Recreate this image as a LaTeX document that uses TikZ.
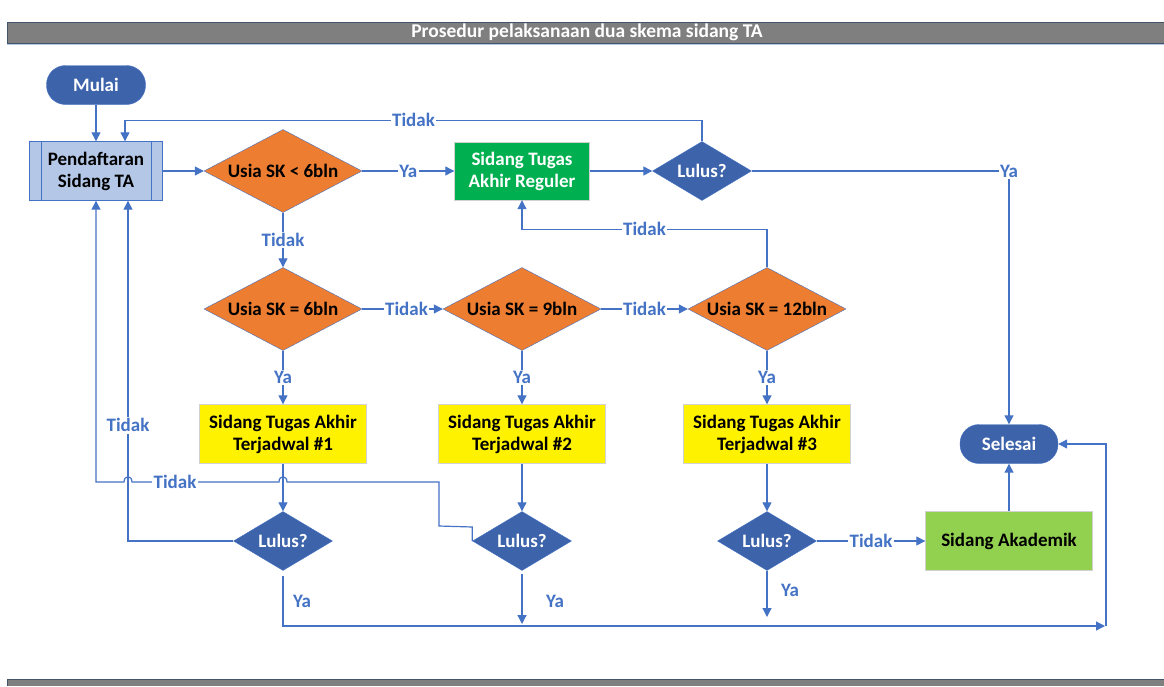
\documentclass[tikz,border=0pt]{standalone}
\usepackage{fontspec}
\setmainfont{Carlito}
\usetikzlibrary{shapes.geometric, positioning, arrows.meta}

\definecolor{lineblue}{RGB}{68,114,196}
\definecolor{darkblue}{RGB}{61,99,170}
\definecolor{skorange}{RGB}{237,125,49}
\definecolor{paleblue}{RGB}{180,199,231}
\definecolor{regreen}{RGB}{0,176,80}
\definecolor{akgreen}{RGB}{146,208,80}
\definecolor{bargray}{RGB}{127,127,127}
\definecolor{barblue}{RGB}{68,84,106}

\tikzset{
  terminal/.style={rectangle, rounded corners=19pt, fill=darkblue, draw=lineblue, text=white,
    minimum width=99pt, minimum height=39pt},
  proses/.style={rectangle, fill=paleblue, draw=lineblue, align=center,
    minimum width=133pt, minimum height=59pt},
  usia/.style={diamond, fill=skorange, draw=lineblue, line width=0.4pt, inner sep=0pt,
    shape aspect=1.9, minimum width=158pt, minimum height=83pt},
  lulus/.style={diamond, fill=darkblue, draw=lineblue, text=white, inner sep=0pt,
    shape aspect=1.68, minimum width=99pt, minimum height=59pt},
  jadwal/.style={rectangle, fill=yellow, draw=gray!35, align=center,
    minimum width=167pt, minimum height=59pt},
  reguler/.style={rectangle, fill=regreen, draw=gray!35, text=white, align=center,
    minimum width=135pt, minimum height=58pt},
  akademik/.style={rectangle, fill=akgreen, draw=gray!35, align=center,
    minimum width=167pt, minimum height=59pt},
  lbl/.style={fill=white, text=lineblue, inner sep=1.5pt},
  flow/.style={->, color=lineblue, line width=1.2pt}
}

\begin{document}
\begin{tikzpicture}[x=1pt, y=-1pt, on grid, >={Triangle[length=9pt, width=9pt]},
    font=\fontsize{19}{22}\selectfont\bfseries]
    \useasboundingbox (0,0) rectangle (1164,686);

    % title bar and bottom bar
    \fill[bargray] (7,22) rectangle (1164,43);
    \draw[barblue, line width=1pt] (7,43) -- (7,22) -- (1164,22);
    \draw[barblue, line width=1pt] (7,43) -- (1164,43);
    \draw[paleblue, line width=1.5pt] (7,44.5) -- (1164,44.5);
    \node[text=white, font=\fontsize{19.5}{22}\selectfont\bfseries] (judul) at (587,32.5)
        {Prosedur pelaksanaan dua skema sidang TA};
    \fill[bargray] (7,679) rectangle (1164,686);
    \draw[barblue, line width=1pt] (7,686) -- (7,679) -- (1164,679);

    \node[terminal] (mulai) at (96,85) {Mulai};
    \node[proses] (daftar) [below=86pt of mulai] {Pendaftaran\\Sidang TA};
    \draw[lineblue] ([xshift=12pt]daftar.north west) -- ([xshift=12pt]daftar.south west);
    \draw[lineblue] ([xshift=-12pt]daftar.north east) -- ([xshift=-12pt]daftar.south east);

    \node[usia] (usia6k) [right=187pt of daftar] {Usia SK < 6bln};
    \node[reguler] (reguler) [right=239pt of usia6k] {Sidang Tugas\\Akhir Reguler};
    \node[lulus] (lulus0) [right=180pt of reguler] {Lulus?};

    \node[usia] (usia6) [below=138pt of usia6k] {Usia SK = 6bln};
    \node[usia] (usia9) [right=239pt of usia6] {Usia SK = 9bln};
    \node[usia] (usia12) [right=245pt of usia9] {Usia SK = 12bln};

    \node[jadwal] (jadwal1) [below=125pt of usia6] {Sidang Tugas Akhir\\Terjadwal \#1};
    \node[jadwal] (jadwal2) [below=125pt of usia9] {Sidang Tugas Akhir\\Terjadwal \#2};
    \node[jadwal] (jadwal3) [below=125pt of usia12] {Sidang Tugas Akhir\\Terjadwal \#3};

    \node[lulus] (lulus1) [below=107pt of jadwal1] {Lulus?};
    \node[lulus] (lulus2) [below=107pt of jadwal2] {Lulus?};
    \node[lulus] (lulus3) [below=107pt of jadwal3] {Lulus?};

    \node[akademik] (akademik) [right=242pt of lulus3] {Sidang Akademik};
    \node[terminal, minimum width=98pt] (selesai) [above=97pt of akademik] {Selesai};

    \coordinate (balik) at (1106,626);
    \coordinate (ya2) at (522,624);
    \coordinate (ya3) at (767,617);

    \path[flow]
    (mulai) edge (daftar)
    (daftar) edge (usia6k)
    (usia6k) edge node[lbl] {Ya} (reguler)
    (reguler) edge (lulus0)
    (usia6k) edge node[lbl] {Tidak} (usia6)
    (usia6) edge node[lbl, pos=0.55] {Tidak} (usia9)
    (usia9) edge node[lbl, pos=0.5] {Tidak} (usia12)
    (usia6) edge node[lbl] {Ya} (jadwal1)
    (usia9) edge node[lbl] {Ya} (jadwal2)
    (usia12) edge node[lbl] {Ya} (jadwal3)
    (jadwal1) edge (lulus1)
    (jadwal2) edge (lulus2)
    (jadwal3) edge (lulus3)
    (lulus3) edge node[lbl] {Tidak} (akademik)
    (akademik) edge (selesai);

    % loops back and exits
    \draw[flow] (lulus0.north) -- ++(0,-21) -| node[lbl, pos=0.25] {Tidak} ([xshift=29pt]daftar.north);
    \draw[flow] (lulus0.east) -| node[lbl, pos=0.5] {Ya} (selesai.north);
    \draw[flow] (usia12.north) -- ++(0,-38) -| node[lbl, pos=0.25] {Tidak} (reguler.south);
    \draw[flow] (lulus1.west) -| node[lbl, pos=0.67] {Tidak} ([xshift=32pt]daftar.south);
    \draw[flow] (lulus2.west) -- ++(0,-14) -- (439,526) -- (439,482) -- (287,482)
        .. controls (287,475) and (279,475) .. (279,482) -- (132,482)
        .. controls (132,475) and (124,475) .. (124,482) -- (96,482) -- (daftar.south);
    \node[lbl] (tidak1) at (175,482) {Tidak};
    \draw[flow, shorten <=5pt] (lulus1.south) -- (lulus1 |- balik) -- ([xshift=-1pt]balik);
    \draw[flow] (balik) |- (selesai.east);
    \draw[flow, shorten <=3pt] (lulus2.south) -- (ya2);
    \draw[flow] (lulus3.south) -- (ya3);
    \node[text=lineblue] (yalulus1) at (302,601) {Ya};
    \node[text=lineblue] (yalulus2) at (555,601) {Ya};
    \node[text=lineblue] (yalulus3) at (790,590) {Ya};
\end{tikzpicture}
\end{document}
